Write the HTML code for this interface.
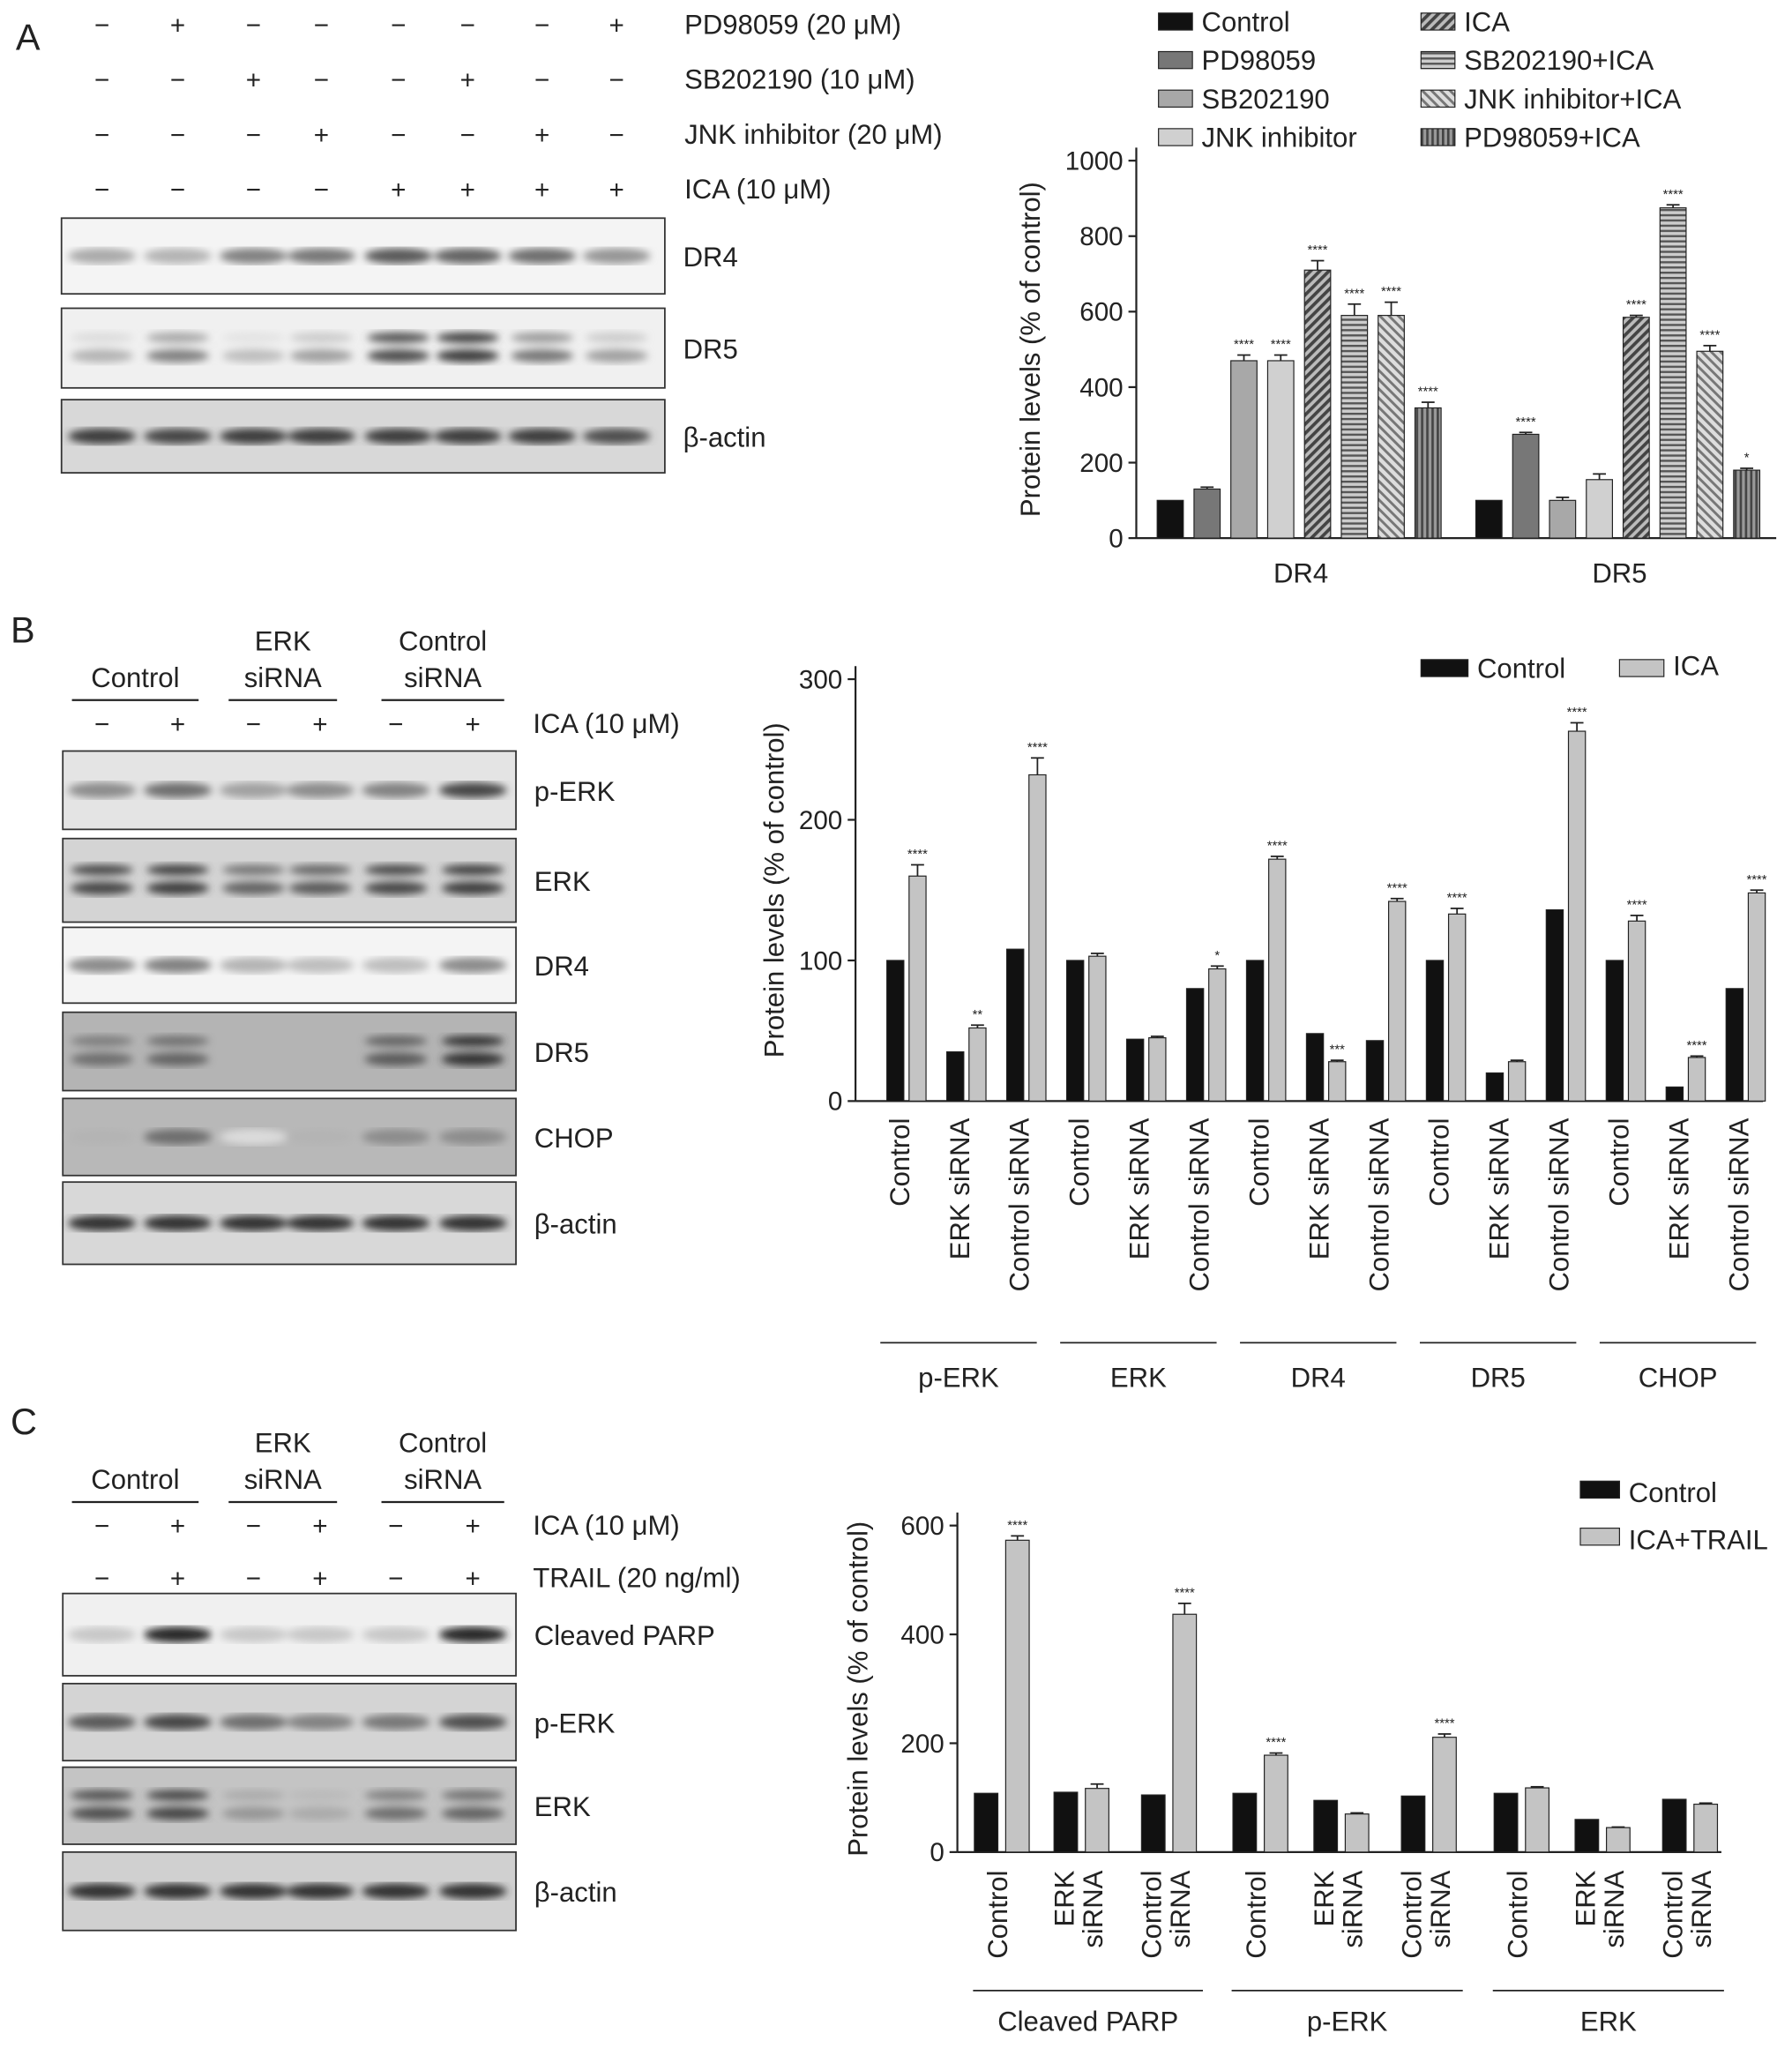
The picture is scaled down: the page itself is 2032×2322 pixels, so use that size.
<!DOCTYPE html>
<html><head><meta charset="utf-8"><style>
html,body{margin:0;padding:0;background:#fff}
svg{display:block}
text{font-family:"Liberation Sans",Arial,sans-serif;fill:#222}
</style></head><body>
<svg id="s" width="2032" height="2322" viewBox="0 0 1372 1568" xmlns="http://www.w3.org/2000/svg">
<defs>
<pattern id="pDiag" width="5" height="5" patternUnits="userSpaceOnUse" patternTransform="rotate(45)"><rect width="5" height="5" fill="#bbb"/><rect width="2.5" height="5" fill="#444"/></pattern>
<pattern id="pHor" width="4" height="4" patternUnits="userSpaceOnUse"><rect width="4" height="4" fill="#ccc"/><rect width="4" height="1.6" fill="#555"/></pattern>
<pattern id="pDiag2" width="5" height="5" patternUnits="userSpaceOnUse" patternTransform="rotate(-45)"><rect width="5" height="5" fill="#ddd"/><rect width="2" height="5" fill="#777"/></pattern>
<pattern id="pVer" width="4" height="4" patternUnits="userSpaceOnUse"><rect width="4" height="4" fill="#999"/><rect width="1.8" height="4" fill="#444"/></pattern>
<filter id="blur"><feGaussianBlur stdDeviation="3"/></filter>
</defs>
<g id="root"></g>
</svg>
<script>
// ---------- Panel A data ----------
const aCategories=["DR4","DR5"];
const aSeries=["Control","PD98059","SB202190","JNK inhibitor","ICA","SB202190+ICA","JNK inhibitor+ICA","PD98059+ICA"];
const aDR4=[100,130,470,470,710,590,590,345];
const aDR5=[100,275,100,155,585,875,495,180];
const aErrDR4=[0,5,15,15,25,30,35,15];
const aErrDR5=[0,5,8,15,5,8,15,5];
const aStarsDR4=["","","****","****","****","****","****","****"];
const aStarsDR5=["","****","","","****","****","****","*"];
const aTicks=[0,200,400,600,800,1000];
// ---------- Panel B data ----------
const bProteins=["p-ERK","ERK","DR4","DR5","CHOP"];
const bConds=["Control","ERK siRNA","Control siRNA"];
const bControl=[100,35,108, 100,44,80, 100,48,43, 100,20,136, 100,10,80];
const bICA=[160,52,232, 103,45,94, 172,28,142, 133,28,263, 128,31,148];
const bErr=[8,2,12, 2,1,2, 2,1,2, 4,1,6, 4,1,2];
const bStars=["****","**","****","","","*","****","***","****","****","","****","****","****","****"];
const bTicks=[0,100,200,300];
// ---------- Panel C data ----------
const cProteins=["Cleaved PARP","p-ERK","ERK"];
const cControl=[108,110,105, 108,95,103, 108,60,97];
const cTrail=[573,117,437, 178,70,211, 118,45,88];
const cErr=[8,8,20, 4,2,6, 2,1,2];
const cStars=["****","","****","****","","****","","",""];
const cTicks=[0,200,400,600];

const NS="http://www.w3.org/2000/svg";
const root=document.getElementById('root');
function mk(tag,attrs,parent,txt){const e=document.createElementNS(NS,tag);for(const k in attrs)e.setAttribute(k,attrs[k]);if(txt!==undefined)e.textContent=txt;(parent||root).appendChild(e);return e;}
function T(x,y,s,size,anchor,name,rot){const a={x:x,y:y,'font-size':size||20,'text-anchor':anchor||'start'};if(rot)a.transform=`rotate(-90 ${x} ${y})`;const e=mk('text',a,root,s);return e;}
function L(x1,y1,x2,y2,w,name){const e=mk('line',{x1,y1,x2,y2,stroke:'#222','stroke-width':w||1.3});return e;}
function R(x,y,w,h,fill,name){const e=mk('rect',{x,y,width:w,height:h,fill,stroke:'#222','stroke-width':0.8});return e;}

T(12,38,"A",28,'start','panel-a-label');T(8,492,"B",28,'start','panel-b-label');T(8,1098,"C",28,'start','panel-c-label');

function blot(x0,x1,y0,y1,lanes,intens,bg,label,name,double){
  const g=mk('g',{});
  mk('rect',{x:x0,y:y0,width:x1-x0,height:y1-y0,fill:bg,stroke:'#333','stroke-width':1.2},g);
  const bl=mk('g',{filter:'url(#blur)'},g);
  const cy=(y0+y1)/2;
  lanes.forEach((lx,i)=>{const v=intens[i];if(v<=0)return;const c=Math.round(230-200*v);
    if(double){mk('ellipse',{cx:lx,cy:cy-8,rx:24,ry:4,fill:`rgb(${c},${c},${c})`,opacity:Math.min(1,v*1.3)},bl);mk('ellipse',{cx:lx,cy:cy+6,rx:24,ry:5,fill:`rgb(${c},${c},${c})`},bl);}
    else mk('ellipse',{cx:lx,cy:cy,rx:26,ry:6,fill:`rgb(${c},${c},${c})`},bl);});
  T(x1+14,cy+8,label,21,'start',name+'-label');
}
const laneA=[78,136,194,246,305,358,415,472];
const pmRows=[["−","+","−","−","−","−","−","+"],["−","−","+","−","−","+","−","−"],["−","−","−","+","−","−","+","−"],["−","−","−","−","+","+","+","+"]];
const pmLbl=["PD98059 (20 μM)","SB202190 (10 μM)","JNK inhibitor (20 μM)","ICA (10 μM)"];
pmRows.forEach((r,j)=>{const y=26+j*42;r.forEach((s,i)=>T(laneA[i],y,s,20,'middle','treatment-sign'));T(524,y,pmLbl[j],21,'start','treatment-label');});
blot(47,509,167,225,laneA,[.3,.25,.5,.55,.7,.65,.6,.4],'#f4f4f4','DR4','blot-a-dr4');
blot(47,509,236,297,laneA,[.25,.5,.2,.35,.75,.85,.55,.35],'#f0f0f0','DR5','blot-a-dr5',true);
blot(47,509,306,362,laneA,[.85,.8,.85,.85,.85,.85,.85,.75],'#d8d8d8','β-actin','blot-a-actin');

const laneB=[78,136,194,245,303,362];
function groupHdr(y0,names){[[55,152],[175,258],[292,386]].forEach((p,i)=>{L(p[0],y0,p[1],y0,1.5,'group-line');const n=names[i];const c=(p[0]+p[1])/2;if(n.length==1)T(c,y0-10,n[0],21,'middle','group-label');else{T(c,y0-38,n[0],21,'middle','group-label');T(c,y0-10,n[1],21,'middle','group-label');}});}
groupHdr(536,[["Control"],["ERK","siRNA"],["Control","siRNA"]]);
["−","+","−","+","−","+"].forEach((s,i)=>T(laneB[i],561,s,20,'middle','treatment-sign'));T(408,561,"ICA (10 μM)",21,'start','treatment-label');
blot(48,395,575,635,laneB,[.45,.6,.35,.45,.5,.8],'#e4e4e4','p-ERK','blot-b-perk');
blot(48,395,642,706,laneB,[.8,.85,.65,.7,.8,.85],'#d4d4d4','ERK','blot-b-erk',true);
blot(48,395,710,768,laneB,[.45,.5,.25,.2,.2,.45],'#f4f4f4','DR4','blot-b-dr4');
blot(48,395,775,835,laneB,[.6,.65,0,0,.7,.9],'#b4b4b4','DR5','blot-b-dr5',true);
blot(48,395,841,900,laneB,[.25,.6,.05,.25,.45,.45],'#b8b8b8','CHOP','blot-b-chop');
blot(48,395,905,968,laneB,[.9,.9,.9,.9,.9,.9],'#d8d8d8','β-actin','blot-b-actin');

groupHdr(1150,[["Control"],["ERK","siRNA"],["Control","siRNA"]]);
["−","+","−","+","−","+"].forEach((s,i)=>T(laneB[i],1175,s,20,'middle','treatment-sign'));T(408,1175,"ICA (10 μM)",21,'start','treatment-label');
["−","+","−","+","−","+"].forEach((s,i)=>T(laneB[i],1215,s,20,'middle','treatment-sign'));T(408,1215,"TRAIL (20 ng/ml)",21,'start','treatment-label');
blot(48,395,1220,1283,laneB,[.15,.95,.15,.15,.15,.95],'#f0f0f0','Cleaved PARP','blot-c-parp');
blot(48,395,1289,1348,laneB,[.7,.8,.6,.5,.55,.75],'#d4d4d4','p-ERK','blot-c-perk');
blot(48,395,1353,1412,laneB,[.75,.8,.4,.3,.6,.65],'#c4c4c4','ERK','blot-c-erk',true);
blot(48,395,1418,1478,laneB,[.9,.9,.9,.9,.9,.9],'#d0d0d0','β-actin','blot-c-actin');

function yAxis(x,y0,y1,vmax,ticks,title,tx,name){const sc=v=>y0-(y0-y1)*v/vmax;
  L(x,sc(ticks[ticks.length-1])-10,x,y0,1.5,name+'-y-axis');
  ticks.forEach(t=>{L(x-6,sc(t),x,sc(t),1.5,'y-tick');T(x-10,sc(t)+7,String(t),20,'end','y-tick-label');});
  T(tx,(y0+sc(ticks[ticks.length-1]))/2,title,21,'middle',name+'-y-title',true);return sc;}
function bar(x,w,v,sc,fill,err,star,name){const y=sc(v);R(x,y,w,sc(0)-y,fill,name);
  if(err>0){L(x+w/2,sc(v+err),x+w/2,y,1.2,'error-bar');L(x+w/2-5,sc(v+err),x+w/2+5,sc(v+err),1.2,'error-cap');}
  if(star)T(x+w/2,sc(v+err)-5,star,10,'middle','significance');}

const aFills=['#111','#777','#a8a8a8','#d0d0d0','url(#pDiag)','url(#pHor)','url(#pDiag2)','url(#pVer)'];
const scA=yAxis(870,412,123,1000,aTicks,"Protein levels (% of control)",796,'chart-a');
L(870,412,1360,412,1.5,'chart-a-x-axis');
[[aDR4,aErrDR4,aStarsDR4,886],[aDR5,aErrDR5,aStarsDR5,1130]].forEach((g,gi)=>{
  g[0].forEach((v,i)=>bar(g[3]+i*28.2,20,v,scA,aFills[i],g[1][i],g[2][i],'bar-a-'+aCategories[gi]+'-'+i));
  T(g[3]+110,446,aCategories[gi],21,'middle','chart-a-x-label');});
aSeries.forEach((s,i)=>{const col=i<4?0:1;const r=i%4;const x=col?1088:887, y=22+r*29.5;R(x,y-12,26,13,aFills[i],'legend-swatch');T(x+33,y+2,s,21,'start','legend-entry');});

const scB=yAxis(655,843,520,300,bTicks,"Protein levels (% of control)",600,'chart-b');
L(655,843,1350,843,1.5,'chart-b-x-axis');
bControl.forEach((v,i)=>{const c=688+i*45.9;bar(c-9,13,v,scB,'#111',0,'','bar-b-control-'+i);bar(c+8,13,bICA[i],scB,'#c4c4c4',bErr[i],bStars[i],'bar-b-ica-'+i);
  T(c+8,856,bConds[i%3],21,'end','chart-b-x-label',true);});
bProteins.forEach((p,k)=>{const c0=688+k*3*45.9;L(c0-14,1028,c0+2*45.9+14,1028,1.2,'group-line');T(c0+45.9,1062,p,21,'middle','chart-b-group-label');});
R(1088,505,36,13,'#111','legend-swatch');T(1131,519,"Control",21,'start','legend-entry');
R(1240,505,34,13,'#c4c4c4','legend-swatch');T(1281,517,"ICA",21,'start','legend-entry');

const scC=yAxis(733,1418,1168,600,cTicks,"Protein levels (% of control)",664,'chart-c');
L(733,1418,1318,1418,1.5,'chart-c-x-axis');
const cX=[765,826,893,963,1025,1092,1163,1225,1292];
cControl.forEach((v,i)=>{const c=cX[i];bar(c-19,18,v,scC,'#111',0,'','bar-c-control-'+i);bar(c+5,18,cTrail[i],scC,'#c4c4c4',cErr[i],cStars[i],'bar-c-trail-'+i);
  const k=i%3;if(k==0)T(c+6,1432,"Control",21,'end','chart-c-x-label',true);else{T(c-4,1432,k==1?"ERK":"Control",21,'end','chart-c-x-label',true);T(c+18,1432,"siRNA",21,'end','chart-c-x-label',true);}});
cProteins.forEach((p,k)=>{const a=cX[k*3]-20,b=cX[k*3+2]+28;L(a,1524,b,1524,1.2,'group-line');T((a+b)/2,1555,p,21,'middle','chart-c-group-label');});
R(1210,1134,30,13,'#111','legend-swatch');T(1247,1150,"Control",21,'start','legend-entry');
R(1210,1170,30,13,'#c4c4c4','legend-swatch');T(1247,1186,"ICA+TRAIL",21,'start','legend-entry');
</script>
</body></html>
